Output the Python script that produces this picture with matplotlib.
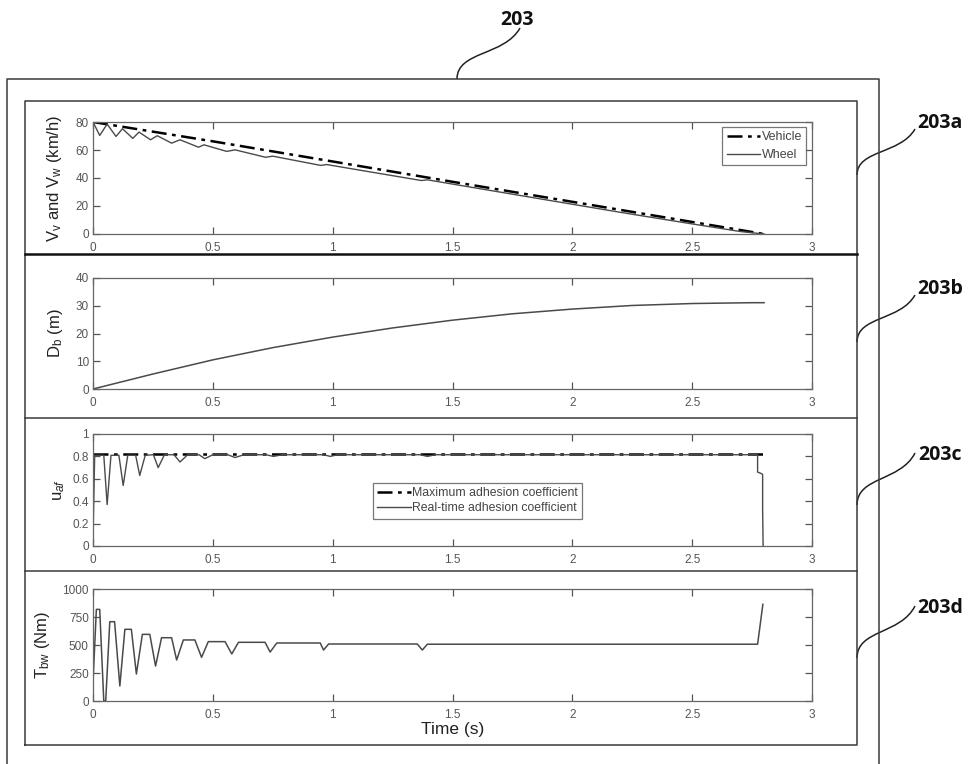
import matplotlib
matplotlib.use("Agg")
import matplotlib.pyplot as plt
from matplotlib.path import Path
from matplotlib.patches import PathPatch

plt.rcParams['font.family'] = ['Liberation Sans', 'DejaVu Sans']
plt.rcParams['mathtext.fontset'] = 'custom'
plt.rcParams['mathtext.rm'] = 'Liberation Sans'
plt.rcParams['mathtext.it'] = 'Liberation Sans:italic'

# ---------------- data ----------------
time_ticks = [0, 0.5, 1, 1.5, 2, 2.5, 3]
time_tick_labels = ['0', '0.5', '1', '1.5', '2', '2.5', '3']

vehicle_t = [0, 0.5, 1.0, 1.5, 2.0, 2.5, 2.8]
vehicle_v = [80, 66.2, 51.8, 37.3, 23.0, 8.6, 0]

wheel_t = [0, 0.028, 0.059, 0.096, 0.123, 0.166, 0.192, 0.24, 0.268, 0.328,
           0.363, 0.44, 0.463, 0.558, 0.593, 0.72, 0.75, 0.95, 0.975, 1.37,
           1.395, 1.8, 2.2, 2.5, 2.7, 2.8]
wheel_v = [80, 70.4, 78.5, 69.7, 75.2, 68.3, 72.8, 67.3, 70.2, 64.9,
           67.3, 62.0, 63.7, 59.0, 60.1, 54.8, 55.6, 49.0, 49.6, 38.2,
           38.7, 27.0, 15.5, 7.2, 1.8, 0]

dist_t = [0, 0.25, 0.5, 0.75, 1.0, 1.25, 1.5, 1.75, 2.0, 2.25, 2.5, 2.75, 2.8]
dist_d = [0, 5.4, 10.5, 14.9, 18.7, 22.0, 24.8, 27.1, 28.8, 30.1, 30.8, 31.1, 31.1]

max_adh_t = [0, 2.8]
max_adh_u = [0.82, 0.82]

real_adh_t = [0, 0.007, 0.045, 0.059, 0.075, 0.108, 0.126, 0.145, 0.178, 0.195,
              0.218, 0.252, 0.272, 0.298, 0.338, 0.363, 0.395, 0.442, 0.467, 0.5,
              0.562, 0.593, 0.63, 0.722, 0.753, 0.79, 0.962, 0.99, 1.02, 1.365,
              1.395, 1.43, 2.773, 2.773, 2.785, 2.794, 2.794, 2.796]
real_adh_u = [0.05, 0.81, 0.81, 0.37, 0.81, 0.81, 0.54, 0.81, 0.81, 0.63,
              0.81, 0.815, 0.70, 0.815, 0.815, 0.75, 0.815, 0.815, 0.78, 0.815,
              0.815, 0.79, 0.815, 0.815, 0.80, 0.815, 0.815, 0.80, 0.815, 0.815,
              0.80, 0.815, 0.815, 0.66, 0.65, 0.64, 0.33, 0.0]

torque_t = [0, 0.014, 0.028, 0.045, 0.053, 0.07, 0.09, 0.112, 0.133, 0.16,
            0.181, 0.206, 0.237, 0.261, 0.286, 0.328, 0.349, 0.377, 0.425, 0.453,
            0.481, 0.551, 0.579, 0.607, 0.718, 0.739, 0.767, 0.948, 0.962, 0.983,
            1.353, 1.374, 1.395, 2.773, 2.795]
torque_T = [160, 818, 818, 0, 0, 708, 708, 134, 640, 640,
            241, 595, 595, 312, 565, 565, 366, 545, 545, 390,
            530, 530, 420, 524, 524, 437, 518, 518, 455, 509,
            509, 455, 507, 507, 863]

# ---------------- figure ----------------
W, H = 969, 764
fig = plt.figure(figsize=(W / 100, H / 100), dpi=100)
fig.patch.set_facecolor('white')

# overlay for frames / reference numerals (pixel coordinates)
ov = fig.add_axes([0, 0, 1, 1], zorder=0)
ov.set_xlim(0, W)
ov.set_ylim(H, 0)
ov.axis('off')

frame_col = '#3a3a3a'
ov.plot([7, 7, 879, 879], [800, 79, 79, 800], color=frame_col, lw=1.1)
ov.plot([25, 25, 857, 857, 25], [745, 101, 101, 745, 745], color=frame_col, lw=1.1)
ov.plot([25, 857], [254, 254], color='#111111', lw=1.8)
ov.plot([25, 857], [418, 418], color=frame_col, lw=1.1)
ov.plot([25, 857], [571, 571], color=frame_col, lw=1.1)


def leader(p0, p3):
    x0, y0 = p0
    x3, y3 = p3
    pts = [(x0, y0), (x0, y0 - 0.55 * (y0 - y3)),
           (x0 + 0.75 * (x3 - x0), y0 - 0.45 * (y0 - y3)), (x3, y3)]
    path = Path(pts, [Path.MOVETO, Path.CURVE4, Path.CURVE4, Path.CURVE4])
    ov.add_patch(PathPatch(path, fill=False, color='#222222', lw=1.1))


leader((457, 79), (520, 28))
leader((857, 175), (915, 129))
leader((857, 342), (915, 295))
leader((857, 505), (915, 453))
leader((857, 658), (915, 606))

ref_kw = dict(family=['Open Sans', 'DejaVu Sans'], fontweight='bold',
              fontsize=14, color='#111111', ha='center', va='center')
ov.text(517, 20, '203', **ref_kw)
ov.text(940, 123, '203a', **ref_kw)
ov.text(940, 289, '203b', **ref_kw)
ov.text(940, 455, '203c', **ref_kw)
ov.text(940, 608, '203d', **ref_kw)


def make_axes(top, bottom):
    left, right = 93, 812
    ax = fig.add_axes([left / W, 1 - bottom / H, (right - left) / W, (bottom - top) / H],
                      zorder=2)
    ax.set_xlim(0, 3)
    ax.set_xticks(time_ticks)
    ax.set_xticklabels(time_tick_labels)
    ax.tick_params(direction='in', length=5, width=0.9, colors='#555555',
                   labelsize=8.5, top=True, right=True)
    ax.tick_params(axis='x', pad=5.5)
    ax.tick_params(axis='y', pad=3)
    for s in ax.spines.values():
        s.set_color('#666666')
        s.set_linewidth(0.9)
    return ax


label_kw = dict(fontsize=12, color='#222222')
line_gray = '#4a4a4a'
dashdot = (6, 2.2, 1.5, 2.2)


def style_legend(leg):
    leg.get_frame().set_edgecolor('#555555')
    leg.get_frame().set_linewidth(0.9)
    for t in leg.get_texts():
        t.set_color('#444444')


# panel a
ax1 = make_axes(122, 234)
ax1.plot(vehicle_t, vehicle_v, color='black', lw=1.8, dashes=dashdot, label='Vehicle')
ax1.plot(wheel_t, wheel_v, color=line_gray, lw=1.0, label='Wheel')
ax1.set_ylim(0, 80)
ax1.set_yticks([0, 20, 40, 60, 80])
ax1.set_ylabel(r'V$_\mathregular{v}$ and V$_\mathregular{w}$ (km/h)', **label_kw)
ax1.yaxis.set_label_coords(-0.041, 0.5)
leg1 = ax1.legend(loc='upper left', bbox_to_anchor=(0.875, 0.955), borderaxespad=0,
                  fontsize=9, frameon=True, fancybox=False, handlelength=2.7,
                  handletextpad=0.1, borderpad=0.35, labelspacing=0.45)
style_legend(leg1)

# panel b
ax2 = make_axes(278, 389)
ax2.plot(dist_t, dist_d, color=line_gray, lw=1.1)
ax2.set_ylim(0, 40)
ax2.set_yticks([0, 10, 20, 30, 40])
ax2.set_ylabel(r'D$_\mathregular{b}$ (m)', **label_kw)
ax2.yaxis.set_label_coords(-0.039, 0.5)

# panel c
ax3 = make_axes(434, 546)
ax3.plot(max_adh_t, max_adh_u, color='black', lw=1.8, dashes=dashdot,
         label='Maximum adhesion coefficient')
ax3.plot(real_adh_t, real_adh_u, color=line_gray, lw=1.0, label='Real-time adhesion coefficient')
ax3.set_ylim(0, 1)
ax3.set_yticks([0, 0.2, 0.4, 0.6, 0.8, 1])
ax3.set_yticklabels(['0', '0.2', '0.4', '0.6', '0.8', '1'])
ax3.set_ylabel(r'u$_{af}$', **label_kw)
ax3.yaxis.set_label_coords(-0.036, 0.5)
leg3 = ax3.legend(loc='upper left', bbox_to_anchor=(0.389, 0.562), borderaxespad=0,
                  fontsize=8.8, frameon=True, fancybox=False, handlelength=2.8,
                  handletextpad=0.05, borderpad=0.35, labelspacing=0.25)
style_legend(leg3)

# panel d
ax4 = make_axes(589, 701)
ax4.plot(torque_t, torque_T, color=line_gray, lw=1.1)
ax4.set_ylim(0, 1000)
ax4.set_yticks([0, 250, 500, 750, 1000])
ax4.set_ylabel(r'T$_\mathregular{bw}$ (Nm)', **label_kw)
ax4.yaxis.set_label_coords(-0.057, 0.5)
ax4.set_xlabel('Time (s)', fontsize=12.5, color='#222222', labelpad=1)

fig.savefig('out.png', dpi=100, facecolor='white')
